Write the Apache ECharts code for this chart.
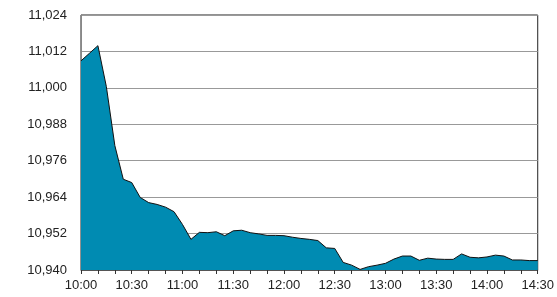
<!DOCTYPE html>
<html>
<head>
<meta charset="utf-8">
<script src="https://cdn.jsdelivr.net/npm/echarts@6/dist/echarts.min.js"></script>
<style>
  html, body { margin: 0; padding: 0; background: #fff; }
  #chart { width: 557px; height: 297px; }
</style>
</head>
<body>
<div id="chart"></div>
<script>
// 5-minute readings, 10:00 - 14:30
var times = ['10:00', '10:05', '10:10', '10:15', '10:20', '10:25', '10:30', '10:35', '10:40', '10:45',
             '10:50', '10:55', '11:00', '11:05', '11:10', '11:15', '11:20', '11:25', '11:30', '11:35',
             '11:40', '11:45', '11:50', '11:55', '12:00', '12:05', '12:10', '12:15', '12:20', '12:25',
             '12:30', '12:35', '12:40', '12:45', '12:50', '12:55', '13:00', '13:05', '13:10', '13:15',
             '13:20', '13:25', '13:30', '13:35', '13:40', '13:45', '13:50', '13:55', '14:00', '14:05',
             '14:10', '14:15', '14:20', '14:25', '14:30'];
var values = [11008.9, 11011.4, 11013.9, 11000.4, 10981.0, 10969.9, 10968.8, 10963.9, 10962.2, 10961.6,
              10960.7, 10959.2, 10955.0, 10950.1, 10952.4, 10952.3, 10952.6, 10951.3, 10952.9, 10953.1,
              10952.3, 10951.9, 10951.4, 10951.4, 10951.3, 10950.8, 10950.4, 10950.1, 10949.7, 10947.3,
              10947.1, 10942.5, 10941.6, 10940.2, 10941.1, 10941.6, 10942.2, 10943.6, 10944.6, 10944.6,
              10943.2, 10943.9, 10943.6, 10943.5, 10943.5, 10945.3, 10944.2, 10944.0, 10944.3, 10944.9,
              10944.6, 10943.3, 10943.3, 10943.1, 10943.1];
var yMin = 10940, yMax = 11024, yStep = 12;

var myChart = echarts.init(document.getElementById('chart'));
var font = 'Liberation Sans';

var option = {
    animation: false,
    grid: {
        left: 81,
        right: 18,
        top: 15,
        bottom: 27,
        show: true,
        borderColor: '#222',
        borderWidth: 1
    },
    xAxis: {
        type: 'category',
        data: times,
        boundaryGap: false,
        axisLine: { show: true, lineStyle: { color: '#555' } },
        axisTick: { show: true, interval: 1, length: 4, lineStyle: { color: '#333' } },
        axisLabel: {
            interval: 5,
            color: '#222',
            fontFamily: font,
            fontSize: 13,
            margin: 9,
            showMaxLabel: true
        },
        splitLine: { show: false }
    },
    yAxis: {
        type: 'value',
        min: yMin,
        max: yMax,
        interval: yStep,
        axisLine: { show: true, lineStyle: { color: '#888' } },
        axisTick: { show: false },
        axisLabel: {
            color: '#222',
            fontFamily: font,
            fontSize: 13,
            margin: 14,
            formatter: function (v) {
                return v.toLocaleString('en-US');
            }
        },
        splitLine: { show: true, lineStyle: { color: '#999', width: 1 } }
    },
    series: [{
        type: 'line',
        data: values,
        symbol: 'none',
        lineStyle: { color: '#111', width: 1 },
        areaStyle: { color: '#008bb2', opacity: 1, origin: 'start' }
    }]
};
myChart.setOption(option);
</script>
</body>
</html>
